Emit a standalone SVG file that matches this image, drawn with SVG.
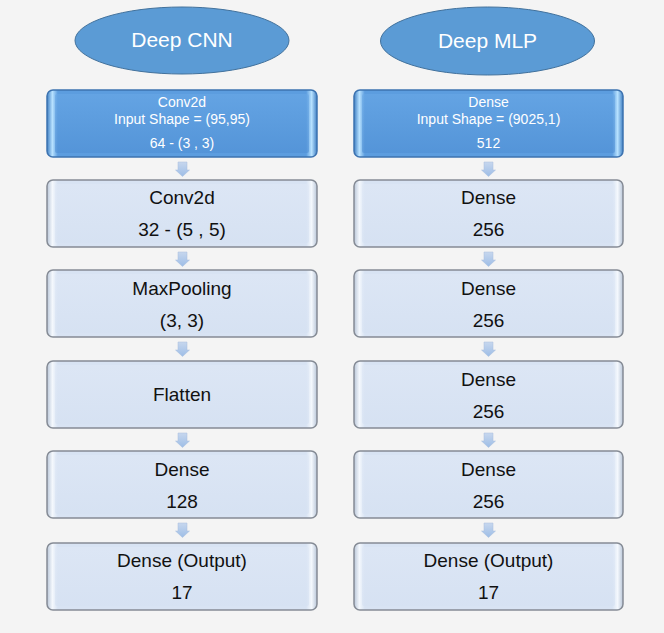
<svg xmlns="http://www.w3.org/2000/svg" width="664" height="633" viewBox="0 0 664 633">
<defs>
<linearGradient id="gLight" x1="0" y1="0" x2="0" y2="1">
<stop offset="0" stop-color="#dfe8f6"/>
<stop offset="1" stop-color="#d5e1f2"/>
</linearGradient>
<linearGradient id="gLightEdge" x1="0" y1="0" x2="1" y2="0">
<stop offset="0" stop-color="#b9c6d8"/>
<stop offset="0.02" stop-color="#f4f8fd"/>
<stop offset="0.04" stop-color="#d8e3f3"/>
<stop offset="0.96" stop-color="#d8e3f3"/>
<stop offset="0.98" stop-color="#f4f8fd"/>
<stop offset="1" stop-color="#b9c6d8"/>
</linearGradient>
<linearGradient id="gBlue" x1="0" y1="0" x2="0" y2="1">
<stop offset="0" stop-color="#69a8e6"/>
<stop offset="1" stop-color="#4f8fd4"/>
</linearGradient>
<linearGradient id="gBlueEdge" x1="0" y1="0" x2="1" y2="0">
<stop offset="0" stop-color="#3f7fc4"/>
<stop offset="0.02" stop-color="#b8e2ff"/>
<stop offset="0.04" stop-color="#5c9ddf"/>
<stop offset="0.96" stop-color="#5c9ddf"/>
<stop offset="0.98" stop-color="#b8e2ff"/>
<stop offset="1" stop-color="#3f7fc4"/>
</linearGradient>
<linearGradient id="gArrow" x1="0" y1="0" x2="0" y2="1">
<stop offset="0" stop-color="#c7d7ee"/>
<stop offset="1" stop-color="#9dbde6"/>
</linearGradient>
</defs>
<style>
.bg{fill:#f4f4f4}
.ell{fill:#5b9bd5;stroke:#41719c;stroke-width:1}
.title{font-family:"Liberation Sans",Arial,sans-serif;font-size:21px;fill:#ffffff;text-anchor:middle}
.lbox{fill:url(#gLightEdge);stroke:#858b95;stroke-width:1.5}
.lin{fill:url(#gLight);opacity:0.6}
.bbox{fill:url(#gBlueEdge);stroke:#3d73b0;stroke-width:1.5}
.bin{fill:url(#gBlue);opacity:0.6}
.t{font-family:"Liberation Sans",Arial,sans-serif;font-size:19px;fill:#111111;text-anchor:middle}
.tw{font-family:"Liberation Sans",Arial,sans-serif;font-size:14px;fill:#ffffff;text-anchor:middle}
.arr{fill:url(#gArrow);stroke:#a9bfdc;stroke-width:0.5}
</style>
<rect class="bg" x="0" y="0" width="664" height="633"/>

<g id="title-cnn">
<ellipse class="ell" cx="182" cy="40.5" rx="107" ry="33.5"/>
<text class="title" x="182" y="47">Deep CNN</text>
</g>
<g id="title-mlp">
<ellipse class="ell" cx="487.5" cy="41" rx="107" ry="34"/>
<text class="title" x="487.5" y="48">Deep MLP</text>
</g>

<g id="cnn-conv2d-input">
<rect class="bbox" x="47" y="90" width="270" height="67" rx="6"/>
<rect class="bin" x="55" y="94" width="254" height="59" rx="2"/>
<text class="tw" x="182" y="107">Conv2d</text>
<text class="tw" x="182" y="124">Input Shape = (95,95)</text>
<text class="tw" x="182" y="148">64 - (3 , 3)</text>
</g>
<g id="cnn-conv2d">
<rect class="lbox" x="47" y="180" width="270" height="67" rx="6"/>
<rect class="lin" x="55" y="184" width="254" height="59" rx="2"/>
<text class="t" x="182" y="204">Conv2d</text>
<text class="t" x="182" y="236">32 - (5 , 5)</text>
</g>
<g id="cnn-maxpool">
<rect class="lbox" x="47" y="270" width="270" height="67" rx="6"/>
<rect class="lin" x="55" y="274" width="254" height="59" rx="2"/>
<text class="t" x="182" y="295">MaxPooling</text>
<text class="t" x="182" y="327">(3, 3)</text>
</g>
<g id="cnn-flatten">
<rect class="lbox" x="47" y="361" width="270" height="67" rx="6"/>
<rect class="lin" x="55" y="365" width="254" height="59" rx="2"/>
<text class="t" x="182" y="401">Flatten</text>
</g>
<g id="cnn-dense">
<rect class="lbox" x="47" y="451" width="270" height="67" rx="6"/>
<rect class="lin" x="55" y="455" width="254" height="59" rx="2"/>
<text class="t" x="182" y="476">Dense</text>
<text class="t" x="182" y="508">128</text>
</g>
<g id="cnn-output">
<rect class="lbox" x="47" y="543" width="270" height="67" rx="6"/>
<rect class="lin" x="55" y="547" width="254" height="59" rx="2"/>
<text class="t" x="182" y="567">Dense (Output)</text>
<text class="t" x="182" y="599">17</text>
</g>

<g id="mlp-dense-input">
<rect class="bbox" x="354" y="90" width="269" height="67" rx="6"/>
<rect class="bin" x="362" y="94" width="253" height="59" rx="2"/>
<text class="tw" x="488.5" y="107">Dense</text>
<text class="tw" x="488.5" y="124">Input Shape = (9025,1)</text>
<text class="tw" x="488.5" y="148">512</text>
</g>
<g id="mlp-dense-1">
<rect class="lbox" x="354" y="180" width="269" height="67" rx="6"/>
<rect class="lin" x="362" y="184" width="253" height="59" rx="2"/>
<text class="t" x="488.5" y="204">Dense</text>
<text class="t" x="488.5" y="236">256</text>
</g>
<g id="mlp-dense-2">
<rect class="lbox" x="354" y="270" width="269" height="67" rx="6"/>
<rect class="lin" x="362" y="274" width="253" height="59" rx="2"/>
<text class="t" x="488.5" y="295">Dense</text>
<text class="t" x="488.5" y="327">256</text>
</g>
<g id="mlp-dense-3">
<rect class="lbox" x="354" y="361" width="269" height="67" rx="6"/>
<rect class="lin" x="362" y="365" width="253" height="59" rx="2"/>
<text class="t" x="488.5" y="386">Dense</text>
<text class="t" x="488.5" y="418">256</text>
</g>
<g id="mlp-dense-4">
<rect class="lbox" x="354" y="451" width="269" height="67" rx="6"/>
<rect class="lin" x="362" y="455" width="253" height="59" rx="2"/>
<text class="t" x="488.5" y="476">Dense</text>
<text class="t" x="488.5" y="508">256</text>
</g>
<g id="mlp-output">
<rect class="lbox" x="354" y="543" width="269" height="67" rx="6"/>
<rect class="lin" x="362" y="547" width="253" height="59" rx="2"/>
<text class="t" x="488.5" y="567">Dense (Output)</text>
<text class="t" x="488.5" y="599">17</text>
</g>

<g id="connectors">
<path class="arr" d="M178 162 h9 v8 h2.5 l-7 6.5 l-7 -6.5 h2.5 z"/>
<path class="arr" d="M178 252 h9 v8 h2.5 l-7 6.5 l-7 -6.5 h2.5 z"/>
<path class="arr" d="M178 342 h9 v8 h2.5 l-7 6.5 l-7 -6.5 h2.5 z"/>
<path class="arr" d="M178 433 h9 v8 h2.5 l-7 6.5 l-7 -6.5 h2.5 z"/>
<path class="arr" d="M178 523 h9 v8 h2.5 l-7 6.5 l-7 -6.5 h2.5 z"/>
<path class="arr" d="M484 162 h9 v8 h2.5 l-7 6.5 l-7 -6.5 h2.5 z"/>
<path class="arr" d="M484 252 h9 v8 h2.5 l-7 6.5 l-7 -6.5 h2.5 z"/>
<path class="arr" d="M484 342 h9 v8 h2.5 l-7 6.5 l-7 -6.5 h2.5 z"/>
<path class="arr" d="M484 433 h9 v8 h2.5 l-7 6.5 l-7 -6.5 h2.5 z"/>
<path class="arr" d="M484 523 h9 v8 h2.5 l-7 6.5 l-7 -6.5 h2.5 z"/>
</g>
</svg>
